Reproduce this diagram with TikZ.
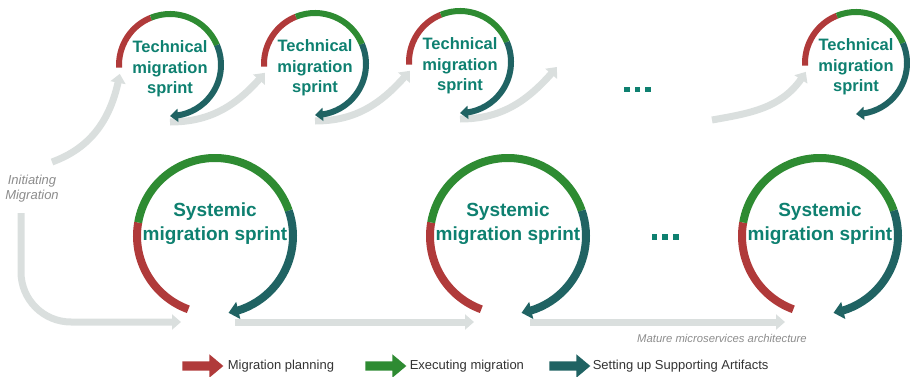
\documentclass[tikz,border=0pt]{standalone}
\usepackage{fontspec}
\setmainfont{Liberation Sans}
\usetikzlibrary{arrows.meta,bending,positioning,shapes.arrows}
\definecolor{mpred}{HTML}{B03A3A}
\definecolor{mpgreen}{HTML}{2E8B32}
\definecolor{mpteal}{HTML}{206363}
\definecolor{mptext}{HTML}{0E8070}
\definecolor{mpgray}{HTML}{DADFDE}
\definecolor{mpnote}{HTML}{8C8C8C}
\newcommand{\mkcycle}[7]{\draw[#2,mpred] (#1.#4) arc[start angle=#4,end angle=#5,radius=#3]; \draw[#2,mpgreen] (#1.#5) arc[start angle=#5,end angle=#6,radius=#3]; \draw[#2,mpteal,#2 tip] (#1.#6) arc[start angle=#6,end angle=#7,radius=#3];}

\begin{document}
\begin{tikzpicture}[
    x=1pt,y=1pt,
    tcirc/.style={circle,minimum size=102pt,inner sep=0pt,outer sep=0pt},
    scirc/.style={circle,minimum size=156pt,inner sep=0pt,outer sep=0pt},
    ttext/.style={align=center,text=mptext,font=\bfseries\fontsize{16.5}{20.5}\selectfont},
    stext/.style={align=center,text=mptext,font=\bfseries\fontsize{19}{24}\selectfont},
    tarc/.style={line width=6pt},
    tarc tip/.style={-{Triangle[length=8pt,width=13pt]}},
    sarc/.style={line width=8pt},
    sarc tip/.style={-{Triangle[length=10pt,width=17pt]}},
    flow/.style={mpgray,line width=7pt,-{Triangle[length=9pt,width=15pt]}},
    note/.style={text=mpnote,font=\itshape\fontsize{13}{15}\selectfont,align=center},
    dot/.style={fill=mptext,minimum size=5.7pt,inner sep=0pt},
    legarrow/.style={single arrow,minimum height=41pt,inner xsep=0pt,inner ysep=4.5pt,single arrow head extend=7pt,single arrow tip angle=80},
    legtext/.style={font=\fontsize{13}{15}\selectfont,text=black!80,inner sep=0pt}
    ]
    \useasboundingbox (0,0) rectangle (910,376);
    \node[tcirc] (t1) at (170,311) {};
    \node[tcirc] (t2) at (315,312) {};
    \node[tcirc] (t3) at (460,314) {};
    \node[tcirc] (t4) at (856,313) {};
    \node[scirc] (s1) at (215,140) {};
    \node[scirc] (s2) at (508,140) {};
    \node[scirc] (s3) at (820,140) {};
    \node[note] (init) at (32,187) {Initiating\\Migration};
    \coordinate (initt) at (52,214);
    \coordinate (initb) at (21,163);
    \coordinate (t3out) at (557,309);
    \coordinate (t4in) at (712,256);

    \draw[flow] (initt) to[out=20,in=-100] (t1.190);
    \draw[flow] ([yshift=-6pt]t1.south) to[out=0,in=-130] (t2.190);
    \draw[flow] ([yshift=-6pt]t2.south) to[out=0,in=-130] (t3.190);
    \draw[flow] ([yshift=-6pt]t3.south) to[out=0,in=-130] (t3out);
    \draw[flow] (t4in) to[out=10,in=-120] (t4.190);
    \draw[flow,rounded corners=50pt] (initb) |- ([xshift=-34pt,yshift=-8pt]s1.south);
    \draw[flow] ([xshift=20pt,yshift=-8pt]s1.south) -- ([xshift=-34pt,yshift=-8pt]s2.south);
    \draw[flow] ([xshift=22pt,yshift=-8pt]s2.south) -- ([xshift=-35pt,yshift=-8pt]s3.south);

    \mkcycle{t1}{tarc}{51pt}{183}{112}{23}{-90}
    \mkcycle{t2}{tarc}{51pt}{183}{112}{23}{-90}
    \mkcycle{t3}{tarc}{51pt}{183}{112}{23}{-90}
    \mkcycle{t4}{tarc}{51pt}{183}{112}{23}{-90}
    \mkcycle{s1}{sarc}{78pt}{250}{170}{19}{-80}
    \mkcycle{s2}{sarc}{78pt}{250}{170}{19}{-80}
    \mkcycle{s3}{sarc}{78pt}{250}{170}{19}{-80}

    \node[ttext] (t1l) at ([yshift=-4pt]t1) {Technical\\migration\\sprint};
    \node[ttext] (t2l) at ([yshift=-4pt]t2) {Technical\\migration\\sprint};
    \node[ttext] (t3l) at ([yshift=-4pt]t3) {Technical\\migration\\sprint};
    \node[ttext] (t4l) at ([yshift=-4pt]t4) {Technical\\migration\\sprint};
    \node[stext] (s1l) at ([yshift=12pt]s1) {Systemic\\migration sprint};
    \node[stext] (s2l) at ([yshift=12pt]s2) {Systemic\\migration sprint};
    \node[stext] (s3l) at ([yshift=12pt]s3) {Systemic\\migration sprint};

    \foreach \i in {0,1,2} {
      \node[dot] (tdot\i) at (627+10.5*\i,286.5) {};
      \node[dot] (sdot\i) at (654.5+10.7*\i,139) {};
    }
    \node[note,font=\itshape\fontsize{11.3}{13}\selectfont] (mature) at (722,38) {Mature microservices architecture};

    \node[legarrow,fill=mpred] (lgplan) at (200,10) {};
    \node[legtext,right=4pt of lgplan] (lgplant) {Migration planning};
    \node[legarrow,fill=mpgreen] (lgexec) at (383,10) {};
    \node[legtext,right=3pt of lgexec] (lgexect) {Executing migration};
    \node[legarrow,fill=mpteal] (lgsup) at (567,10) {};
    \node[legtext,right=2pt of lgsup] (lgsupt) {Setting up Supporting Artifacts};
  \end{tikzpicture}
\end{document}
